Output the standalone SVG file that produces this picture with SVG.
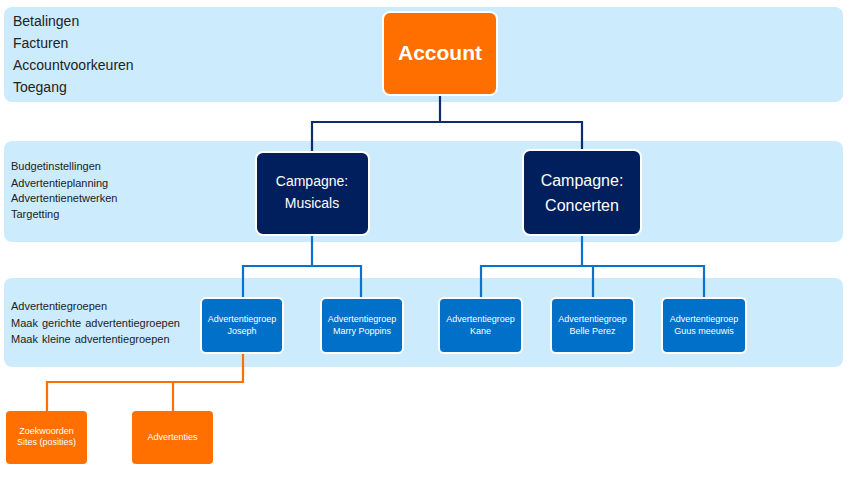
<svg xmlns="http://www.w3.org/2000/svg" width="850" height="482" viewBox="0 0 850 482">
<style>
.band{fill:#CCEBFD}
.lbl{font-family:"Liberation Sans",Arial,sans-serif;fill:#222}
.big{font-size:14px}
.sm{font-size:11px}
.wt{font-family:"Liberation Sans",Arial,sans-serif;fill:#fff;text-anchor:middle}
.acc{fill:#FF6F00;stroke:#fff;stroke-width:2}
.camp{fill:#001F5C;stroke:#fff;stroke-width:2}
.grp{fill:#0070C8;stroke:#fff;stroke-width:2}
.org{fill:#FF7000}
.cn{fill:none;stroke-width:2.2}
</style>
<rect class="band" x="4" y="7" width="839" height="95" rx="8"/>
<rect class="band" x="4" y="141" width="839" height="101" rx="8"/>
<rect class="band" x="4" y="278" width="839" height="89" rx="8"/>
<g id="band-texts">
<text class="lbl big" x="13" y="26">Betalingen</text>
<text class="lbl big" x="13" y="48">Facturen</text>
<text class="lbl big" x="13" y="70">Accountvoorkeuren</text>
<text class="lbl big" x="13" y="92">Toegang</text>
<text class="lbl sm" x="11" y="170">Budgetinstellingen</text>
<text class="lbl sm" x="11" y="187">Advertentieplanning</text>
<text class="lbl sm" x="11" y="202">Advertentienetwerken</text>
<text class="lbl sm" x="11" y="218">Targetting</text>
<text class="lbl sm" x="11" y="310">Advertentiegroepen</text>
<text class="lbl sm" x="11" y="327" word-spacing="1">Maak gerichte advertentiegroepen</text>
<text class="lbl sm" x="11" y="343" word-spacing="1">Maak kleine advertentiegroepen</text>
</g>
<g id="connectors">
<path class="cn" stroke="#0E2D6E" d="M440 95 V122 M312 152 V122 H582 V150"/>
<path class="cn" stroke="#0A72CC" d="M312 235 V266 M243 298 V266 H361 V298"/>
<path class="cn" stroke="#0A72CC" d="M582 235 V266 M481 298 V266 H704 V298 M593 266 V298"/>
<path class="cn" stroke="#FF6F00" d="M243 353 V382 H47 V411 M173 382 V411"/>
</g>
<g id="account">
<rect class="acc" x="383" y="12" width="114" height="83" rx="7"/>
<text class="wt" x="440" y="60" font-size="21" font-weight="bold">Account</text>
</g>
<g id="campagne-musicals">
<rect class="camp" x="256" y="152" width="113" height="83" rx="7"/>
<text class="wt" x="312" y="186" font-size="14">Campagne:</text>
<text class="wt" x="312" y="208" font-size="14">Musicals</text>
</g>
<g id="campagne-concerten">
<rect class="camp" x="523" y="150" width="118" height="85" rx="7"/>
<text class="wt" x="582" y="186" font-size="16">Campagne:</text>
<text class="wt" x="582" y="211" font-size="16">Concerten</text>
</g>
<g id="grp-joseph">
<rect class="grp" x="201" y="298" width="82" height="55" rx="5"/>
<text class="wt" x="242" y="322" font-size="9">Advertentiegroep</text>
<text class="wt" x="242" y="334" font-size="9">Joseph</text>
</g>
<g id="grp-marry">
<rect class="grp" x="321" y="298" width="82" height="55" rx="5"/>
<text class="wt" x="362" y="322" font-size="9">Advertentiegroep</text>
<text class="wt" x="362" y="334" font-size="9">Marry Poppins</text>
</g>
<g id="grp-kane">
<rect class="grp" x="439" y="298" width="83" height="55" rx="5"/>
<text class="wt" x="480.5" y="322" font-size="9">Advertentiegroep</text>
<text class="wt" x="480.5" y="334" font-size="9">Kane</text>
</g>
<g id="grp-belle">
<rect class="grp" x="551" y="298" width="83" height="55" rx="5"/>
<text class="wt" x="592.5" y="322" font-size="9">Advertentiegroep</text>
<text class="wt" x="592.5" y="334" font-size="9">Belle Perez</text>
</g>
<g id="grp-guus">
<rect class="grp" x="662" y="298" width="84" height="55" rx="5"/>
<text class="wt" x="704" y="322" font-size="9">Advertentiegroep</text>
<text class="wt" x="704" y="334" font-size="9">Guus meeuwis</text>
</g>
<g id="zoekwoorden">
<rect class="org" x="6" y="411" width="81" height="53" rx="4"/>
<text class="wt" x="46.5" y="434" font-size="9">Zoekwoorden</text>
<text class="wt" x="46.5" y="445" font-size="9">Sites (posities)</text>
</g>
<g id="advertenties">
<rect class="org" x="132" y="411" width="81" height="53" rx="4"/>
<text class="wt" x="172.5" y="440" font-size="9">Advertenties</text>
</g>
</svg>
